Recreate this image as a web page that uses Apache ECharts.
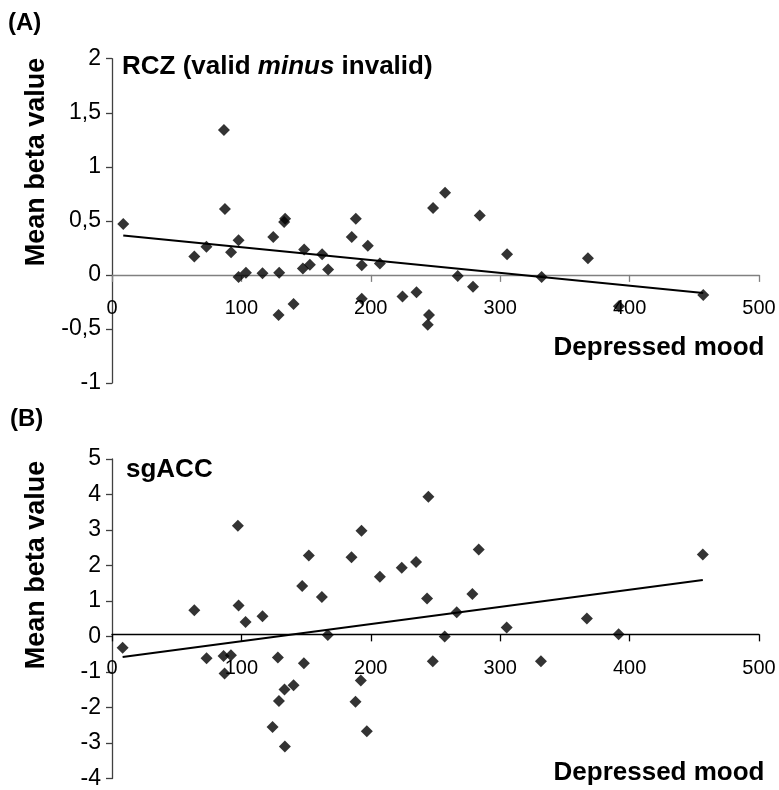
<!DOCTYPE html>
<html>
<head>
<meta charset="utf-8">
<title>Mean beta value vs depressed mood</title>
<script src="https://cdn.jsdelivr.net/npm/echarts@6/dist/echarts.min.js"></script>
<style>
  html, body { margin: 0; padding: 0; background: #ffffff; }
  #chart { width: 779px; height: 790px; }
</style>
</head>
<body>
<div id="chart"></div>
<script>
// (A) RCZ: depressed-mood score and mean beta value per participant
const rczMood = [8.7, 63.6, 73, 86.5, 87.3, 92, 97.8, 97.8, 103.5, 116.3, 124.6, 128.7, 129.2,
  133, 133.8, 140.3, 147.5, 148.5, 152.9, 162.4, 167, 185.3, 188.4, 193, 193, 197.7, 207,
  224.5, 235.3, 244, 245, 248.1, 257.4, 267.2, 279, 284.2, 305.3, 332, 367.8, 391.7, 456.9];
const rczBeta = [0.47, 0.17, 0.26, 1.34, 0.61, 0.21, 0.32, -0.02, 0.02, 0.015, 0.35, -0.37, 0.02,
  0.49, 0.52, -0.27, 0.06, 0.235, 0.095, 0.19, 0.05, 0.35, 0.52, 0.09, -0.22, 0.27, 0.105,
  -0.20, -0.16, -0.46, -0.37, 0.62, 0.76, -0.01, -0.11, 0.55, 0.19, -0.02, 0.155, -0.29, -0.185];
// RCZ regression line end points
const rczFitMood = [8.7, 456.9];
const rczFitBeta = [0.365, -0.167];

// (B) sgACC
const sgaccMood = [8.2, 63.6, 73.1, 86.2, 87, 91.9, 97.3, 97.8, 103.2, 116.3, 124.1, 128.2, 129,
  133.3, 133.6, 140.3, 147, 148.3, 152.1, 162.2, 166.8, 185.1, 188.2, 192.3, 192.8, 196.9, 207,
  223.9, 235, 243.5, 244.5, 247.9, 257.1, 266.4, 278.5, 283.4, 305, 331.5, 367, 391.5, 456.6];
const sgaccBeta = [-0.32, 0.74, -0.61, -0.55, -1.04, -0.53, 3.12, 0.87, 0.41, 0.57, -2.55, -0.59, -1.82,
  -1.49, -3.10, -1.37, 1.42, -0.75, 2.28, 1.11, 0.04, 2.23, -1.84, -1.24, 2.98, -2.67, 1.68,
  1.94, 2.10, 1.07, 3.94, -0.70, 0.00, 0.68, 1.20, 2.45, 0.255, -0.70, 0.51, 0.06, 2.31];
// sgACC regression line end points
const sgaccFitMood = [8.2, 456.6];
const sgaccFitBeta = [-0.58, 1.59];

// Axis ranges
const moodAxis = { min: 0, max: 500, step: 100 };
const rczAxis = { min: -1, max: 2, step: 0.5 };
const sgaccAxis = { min: -4, max: 5, step: 1 };

const FONT = '"Liberation Sans", Arial, Helvetica, sans-serif';
const GRID_H = 324.3;
const zip = (xs, ys) => xs.map((x, i) => [x, ys[i]]);

// The mood axis crosses the beta axis at zero: shift it up from the grid bottom
function xAxisFor(gridIndex, lineColor, yRange) {
  const lift = (0 - yRange.min) / (yRange.max - yRange.min) * GRID_H;
  return {
    type: 'value', gridIndex,
    min: moodAxis.min, max: moodAxis.max, interval: moodAxis.step,
    offset: -lift,
    splitLine: { show: false },
    axisLine: { show: true, onZero: false, lineStyle: { color: lineColor, width: 1.3 } },
    axisTick: { show: true, length: 7, lineStyle: { color: lineColor, width: 1.3 } },
    axisLabel: { fontFamily: FONT, fontSize: 20, color: '#000', margin: 24 }
  };
}
function yAxisFor(gridIndex, range) {
  return {
    type: 'value', gridIndex,
    min: range.min, max: range.max, interval: range.step,
    splitLine: { show: false },
    axisLine: { show: true, onZero: false, lineStyle: { color: '#404040', width: 1.3 } },
    axisTick: { show: true, length: 6, lineStyle: { color: '#404040', width: 1.3 } },
    axisLabel: {
      fontFamily: FONT, fontSize: 23, color: '#000', margin: 11,
      formatter: v => String(v).replace('.', ',')
    }
  };
}
function scatter(i, xs, ys) {
  return {
    type: 'scatter', xAxisIndex: i, yAxisIndex: i,
    data: zip(xs, ys), symbol: 'diamond', symbolSize: 12,
    itemStyle: { color: '#000' }, silent: true, z: 3
  };
}
function fitLine(i, xs, ys) {
  return {
    type: 'line', xAxisIndex: i, yAxisIndex: i,
    data: zip(xs, ys), showSymbol: false, symbol: 'none',
    lineStyle: { color: '#000', width: 2 }, silent: true, z: 2
  };
}
function label(x, y, text, size, extra) {
  return {
    type: 'text', x, y,
    style: Object.assign({
      text, fontFamily: FONT, fontSize: size, fontWeight: 'bold', fill: '#000',
      align: 'left', verticalAlign: 'middle'
    }, extra || {})
  };
}

const chart = echarts.init(document.getElementById('chart'), null, { renderer: 'canvas' });
chart.setOption({
  backgroundColor: '#ffffff',
  animation: false,
  grid: [
    { left: 112, top: 58.7, width: 647, height: GRID_H },
    { left: 112, top: 459, width: 647, height: GRID_H }
  ],
  xAxis: [xAxisFor(0, '#808080', rczAxis), xAxisFor(1, '#000000', sgaccAxis)],
  yAxis: [yAxisFor(0, rczAxis), yAxisFor(1, sgaccAxis)],
  series: [
    fitLine(0, rczFitMood, rczFitBeta),
    scatter(0, rczMood, rczBeta),
    fitLine(1, sgaccFitMood, sgaccFitBeta),
    scatter(1, sgaccMood, sgaccBeta)
  ],
  graphic: [
    label(8, 23, '(A)', 24),
    label(10, 419, '(B)', 24),
    {
      type: 'text', x: 122, y: 67,
      style: {
        text: '{b|RCZ (valid }{i|minus}{b| invalid)}',
        verticalAlign: 'middle',
        rich: {
          b: { fontFamily: FONT, fontSize: 26, fontWeight: 'bold', fill: '#000' },
          i: { fontFamily: FONT, fontSize: 26, fontWeight: 'bold', fontStyle: 'italic', fill: '#000' }
        }
      }
    },
    label(126, 470, 'sgACC', 26),
    label(659, 348, 'Depressed mood', 26, { align: 'center' }),
    label(659, 773, 'Depressed mood', 26, { align: 'center' }),
    Object.assign(label(37, 162, 'Mean beta value', 27, { align: 'center' }), { rotation: Math.PI / 2 }),
    Object.assign(label(37, 565, 'Mean beta value', 27, { align: 'center' }), { rotation: Math.PI / 2 })
  ]
});
</script>
</body>
</html>
